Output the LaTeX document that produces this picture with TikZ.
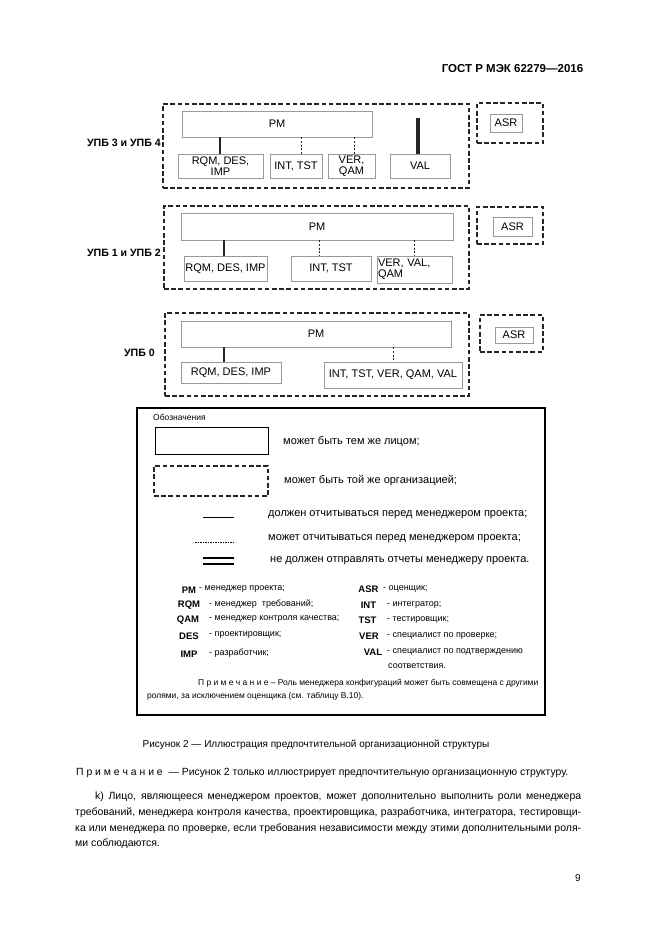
\documentclass[tikz,border=0pt]{standalone}
\usepackage{fontspec}
\setmainfont{Liberation Sans}
\begin{document}
\tikzset{
  grp/.style={draw=black!85, line width=2.3pt, dash pattern=on 4.6pt off 2.6pt, inner sep=0pt},
  role/.style={draw=black!40, line width=0.8pt, inner sep=0pt, align=center, font=\fontsize{11}{11}\selectfont},
  lbl/.style={font=\bfseries\fontsize{10.6}{13}\selectfont, anchor=east, inner sep=0pt},
  must/.style={black!85, line width=1.8pt},
  may/.style={black!85, line width=0.9pt, dash pattern=on 2pt off 1.6pt},
  mustnot/.style={black!85, line width=3.4pt},
  ltext/.style={font=\fontsize{11}{13}\selectfont, anchor=west, inner sep=0pt},
  abbr/.style={font=\bfseries\fontsize{9.5}{11}\selectfont, inner sep=0pt},
  desc/.style={font=\fontsize{9}{11}\selectfont, anchor=west, inner sep=0pt},
  body/.style={font=\fontsize{10.5}{13}\selectfont, anchor=west, inner sep=0pt},
  small/.style={font=\fontsize{10}{12}\selectfont, inner sep=0pt},
}
\begin{tikzpicture}[x=1pt,y=-1pt]
\useasboundingbox[fill=white] (0,0) rectangle (661,935);

% header
\node[font=\bfseries\fontsize{11.5}{13}\selectfont, inner sep=0pt] (hdr) at (512.5,69) {ГОСТ Р МЭК 62279—2016};

% ---------- UPB 3 and UPB 4 ----------
\node[grp, minimum width=306pt, minimum height=84pt] (grp3) at (316,146) {};
\node[role, minimum width=190pt, minimum height=26pt] (pm3) at (277,124) {PM};
\node[role, minimum width=85pt, minimum height=24pt] (rqm3) at (220.5,166) {RQM, DES,\\IMP};
\node[role, minimum width=52pt, minimum height=24pt] (int3) at (296,166) {INT, TST};
\node[role, minimum width=47pt, minimum height=24pt] (ver3) at (351.5,166) {VER,\\QAM};
\node[role, minimum width=60pt, minimum height=24pt] (val3) at (420,166) {VAL};
\node[grp, minimum width=66pt, minimum height=40pt] (asrg3) at (510,123) {};
\node[role, minimum width=32pt, minimum height=18pt] (asr3) at (506,123) {ASR};
\node[lbl] (lbl3) at (161,143) {УПБ 3 и УПБ 4};
\coordinate (valtop) at (418,118);
\draw[must] ([xshift=-0.5pt]rqm3.north |- pm3.south) -- ([xshift=-0.5pt]rqm3.north);
\draw[may] ([xshift=5pt]int3.north |- pm3.south) -- ([xshift=5pt]int3.north);
\draw[may] ([xshift=2.5pt]ver3.north |- pm3.south) -- ([xshift=2.5pt]ver3.north);
\draw[mustnot] (valtop) -- ([xshift=-2pt]val3.north);

% ---------- UPB 1 and UPB 2 ----------
\node[grp, minimum width=305pt, minimum height=83pt] (grp2) at (316.5,247.5) {};
\node[role, minimum width=272pt, minimum height=27pt] (pm2) at (317,226.5) {PM};
\node[role, minimum width=83pt, minimum height=25pt] (rqm2) at (225.5,268.5) {RQM, DES, IMP};
\node[role, minimum width=80pt, minimum height=25pt] (int2) at (331,268.5) {INT, TST};
\node[role, minimum width=75pt, minimum height=27pt, align=left, text width=73pt] (ver2) at (414.5,269.5) {VER, VAL,\\QAM};
\node[grp, minimum width=66pt, minimum height=37pt] (asrg2) at (510,225.5) {};
\node[role, minimum width=39pt, minimum height=19pt] (asr2) at (512.5,226.5) {ASR};
\node[lbl] (lbl2) at (161,253) {УПБ 1 и УПБ 2};
\draw[must] ([xshift=-1.5pt]rqm2.north |- pm2.south) -- ([xshift=-1.5pt]rqm2.north);
\draw[may] ([xshift=-12pt]int2.north |- pm2.south) -- ([xshift=-12pt]int2.north);
\draw[may] ([xshift=-0.5pt]ver2.north |- pm2.south) -- ([xshift=-0.5pt]ver2.north);

% ---------- UPB 0 ----------
\node[grp, minimum width=304pt, minimum height=83pt] (grp0) at (317,354.5) {};
\node[role, minimum width=270pt, minimum height=26pt] (pm0) at (316,334) {PM};
\node[role, minimum width=100pt, minimum height=21pt] (rqm0) at (231,372.5) {RQM, DES, IMP};
\node[role, minimum width=138pt, minimum height=26pt] (int0) at (393,375) {INT, TST, VER, QAM, VAL};
\node[grp, minimum width=63pt, minimum height=37pt] (asrg0) at (511.5,333.5) {};
\node[role, minimum width=38pt, minimum height=16pt] (asr0) at (514,335) {ASR};
\node[lbl] (lbl0) at (155,353) {УПБ 0};
\draw[must] ([xshift=-7pt]rqm0.north |- pm0.south) -- ([xshift=-7pt]rqm0.north);
\draw[may] (int0.north |- pm0.south) -- (int0.north);

% ---------- legend ----------
\node[draw=black, line width=1.2pt, minimum width=408pt, minimum height=307pt, inner sep=0pt] (legend) at (341,561.5) {};
\node[font=\fontsize{8.5}{10}\selectfont, anchor=west, inner sep=0pt] (leghead) at (153,417) {Обозначения};
\node[draw=black, line width=0.9pt, minimum width=113pt, minimum height=27pt, inner sep=0pt] (lsolid) at (211.5,440.5) {};
\node[grp, minimum width=114pt, minimum height=30pt] (ldash) at (211,481) {};
\node[ltext] (t1) at (283,442) {может быть тем же лицом;};
\node[ltext] (t2) at (284,481) {может быть той же организацией;};
\coordinate (l1a) at (203,517); \coordinate (l1b) at (234,517);
\draw[black, line width=0.8pt] (l1a) -- (l1b);
\node[ltext] (t3) at (268,515) {должен отчитываться перед менеджером проекта;};
\coordinate (l2a) at (195,542); \coordinate (l2b) at (235,542);
\draw[black, line width=0.8pt, dash pattern=on 1.5pt off 1pt] (l2a) -- (l2b);
\node[ltext] (t4) at (268,539) {может отчитываться перед менеджером проекта;};
\coordinate (l3a) at (203,558); \coordinate (l3b) at (234,558);
\coordinate (l4a) at (203,563.5); \coordinate (l4b) at (234,563.5);
\draw[black, line width=2pt] (l3a) -- (l3b);
\draw[black, line width=2pt] (l4a) -- (l4b);
\node[ltext] (t5) at (270,561) {не должен отправлять отчеты менеджеру проекта.};

% abbreviations
\node[abbr] (aPM) at (189,590) {PM};
\node[desc] (dPM) at (199,589) {- менеджер проекта;};
\node[abbr] (aRQM) at (189,605) {RQM};
\node[desc] (dRQM) at (209,604) {- менеджер\ \ требований;};
\node[abbr] (aQAM) at (188,620) {QAM};
\node[desc] (dQAM) at (209,619) {- менеджер контроля качества;};
\node[abbr] (aDES) at (189,636) {DES};
\node[desc] (dDES) at (209,635) {- проектировщик;};
\node[abbr] (aIMP) at (189,654) {IMP};
\node[desc] (dIMP) at (209,653) {- разработчик;};

\node[abbr] (aASR) at (368.5,589) {ASR};
\node[desc] (dASR) at (383,589) {- оценщик;};
\node[abbr] (aINT) at (368.5,605) {INT};
\node[desc] (dINT) at (387,605) {- интегратор;};
\node[abbr] (aTST) at (367.5,620) {TST};
\node[desc] (dTST) at (387,620) {- тестировщик;};
\node[abbr] (aVER) at (369,636) {VER};
\node[desc] (dVER) at (387,636) {- специалист по проверке;};
\node[abbr] (aVAL) at (373,652) {VAL};
\node[desc] (dVAL) at (387,652) {- специалист по подтверждению};
\node[desc] (dVAL2) at (388,666) {соответствия.};

\node[desc, font=\fontsize{8.45}{10}\selectfont] (note1) at (198,683) {П р и м е ч а н и е – Роль менеджера конфигураций может быть совмещена с другими};
\node[desc, font=\fontsize{8.45}{10}\selectfont] (note2) at (147,696) {ролями, за исключением оценщика (см. таблицу В.10).};

% caption
\node[small] (cap) at (316,745) {Рисунок 2 — Иллюстрация предпочтительной организационной структуры};

% body text
\node[small, anchor=west, font=\fontsize{10.4}{12}\selectfont] (pnote) at (76,773) {П р и м е ч а н и е\ \ — Рисунок 2 только иллюстрирует предпочтительную организационную структуру.};
\node[body] (b1) at (95,797) {\makebox[486pt][s]{k) Лицо, являющееся менеджером проектов, может дополнительно выполнить роли менеджера}};
\node[body] (b2) at (75,813) {\makebox[506pt][s]{требований, менеджера контроля качества, проектировщика, разработчика, интегратора, тестировщи-}};
\node[body] (b3) at (75,829) {\makebox[506pt][s]{ка или менеджера по проверке, если требования независимости между этими дополнительными роля-}};
\node[body] (b4) at (75,844) {ми соблюдаются.};
\node[small] (pg) at (578,878) {9};
\end{tikzpicture}
\end{document}
